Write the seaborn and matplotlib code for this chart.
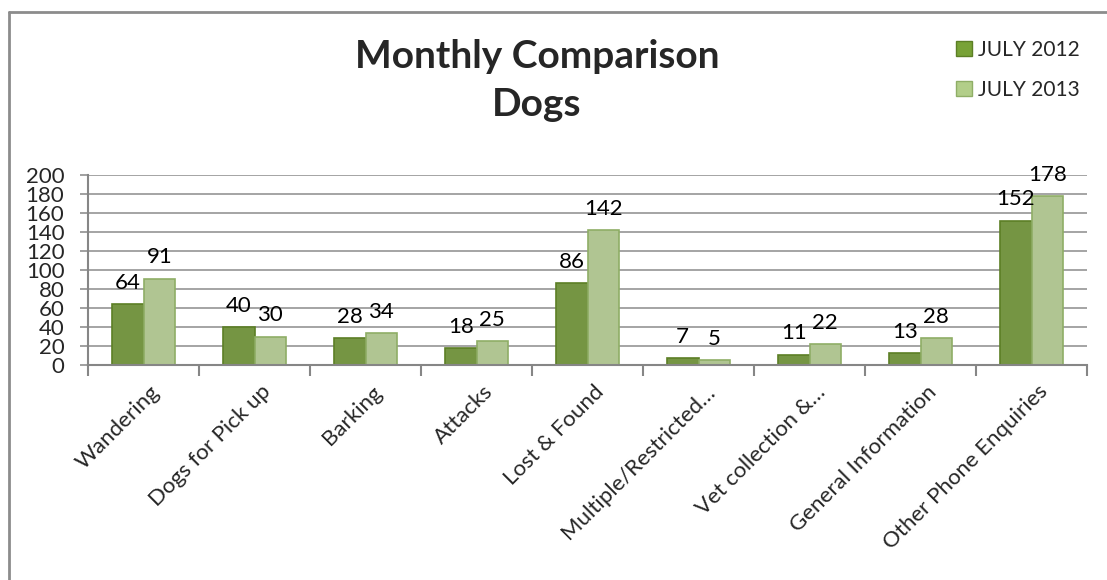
import matplotlib
matplotlib.use("Agg")
import matplotlib.pyplot as plt
import matplotlib.transforms as mtransforms
from matplotlib.lines import Line2D
import seaborn as sns
import pandas as pd

categories = ["Wandering", "Dogs for Pick up", "Barking", "Attacks", "Lost & Found",
              "Multiple/Restricted…", "Vet collection &…", "General Information",
              "Other Phone Enquiries"]
july_2012 = [64, 40, 28, 18, 86, 7, 11, 13, 152]
july_2013 = [91, 30, 34, 25, 142, 5, 22, 28, 178]
series = ["JULY 2012", "JULY 2013"]
colors = ["#78A236", "#B2CE89"]
edges = ["#5C7F25", "#8FAE66"]

df = pd.DataFrame({
    "Category": categories * 2,
    "Period": [series[0]] * len(categories) + [series[1]] * len(categories),
    "Count": july_2012 + july_2013,
})

sns.set_style("white")
plt.rcParams["font.family"] = ["Lato", "DejaVu Sans"]

W, H = 1107, 580
fig = plt.figure(figsize=(W / 100, H / 100), dpi=100)
ax = fig.add_axes([88 / W, 1 - 365 / H, (1087 - 88) / W, (365 - 175) / H])

sns.barplot(data=df, x="Category", y="Count", hue="Period", order=categories,
            hue_order=series, palette=colors, width=0.57, ax=ax, legend=False,
            errorbar=None)

for cont, ec in zip(ax.containers, edges):
    for bar in cont:
        bar.set_edgecolor(ec)
        bar.set_linewidth(1.2)
    ax.bar_label(cont, labels=[f"{v:g}" for v in cont.datavalues], padding=8,
                 fontsize=16, color="black")

ax.set_ylim(0, 200)
ax.set_xlim(-0.5, len(categories) - 0.5)
ax.set_yticks(range(0, 201, 20))
ax.yaxis.grid(True, color="#8C8C8C", linewidth=1.1)
ax.set_axisbelow(True)
ax.set_xlabel("")
ax.set_ylabel("")

for s in ["top", "right"]:
    ax.spines[s].set_visible(False)
for s in ["bottom", "left"]:
    ax.spines[s].set_color("#868686")
    ax.spines[s].set_linewidth(1.5)

ax.tick_params(axis="y", which="major", length=6, color="#868686", width=1.1,
               labelsize=16, pad=11, left=True)
ax.set_xticks(range(len(categories)))
ax.set_xticklabels(categories, rotation=45, ha="right", va="top",
                   rotation_mode="anchor", fontsize=16)
ax.tick_params(axis="x", which="major", length=0, pad=12)
shift = mtransforms.ScaledTranslation(6 / 100, 0, fig.dpi_scale_trans)
for lbl in ax.get_xticklabels():
    lbl.set_transform(lbl.get_transform() + shift)
ax.set_xticks([i - 0.5 for i in range(len(categories) + 1)], minor=True)
ax.tick_params(axis="x", which="minor", length=8, color="#868686", width=1.5,
               bottom=True)

fig.text(537 / W, 1 - 57 / H, "Monthly Comparison", ha="center", va="center",
         fontsize=28, fontweight="bold")
fig.text(537 / W, 1 - 105 / H, "Dogs", ha="center", va="center",
         fontsize=28, fontweight="bold")

handles = [plt.Rectangle((0, 0), 1, 1, facecolor=c, edgecolor=e)
           for c, e in zip(colors, edges)]
fig.legend(handles, series, loc="center left",
           bbox_to_anchor=(948 / W, 1 - 70 / H), frameon=False, fontsize=15,
           handlelength=0.75, handleheight=0.75, handletextpad=0.3,
           labelspacing=0.95, borderaxespad=0)

fig.add_artist(Line2D([8.5 / W, 1], [1 - 11.5 / H, 1 - 11.5 / H],
                      color="#8C8C8C", linewidth=2, transform=fig.transFigure))
fig.add_artist(Line2D([8.5 / W, 8.5 / W], [0, 1 - 11.5 / H],
                      color="#8C8C8C", linewidth=2, transform=fig.transFigure))

fig.savefig("out.png", dpi=100)
